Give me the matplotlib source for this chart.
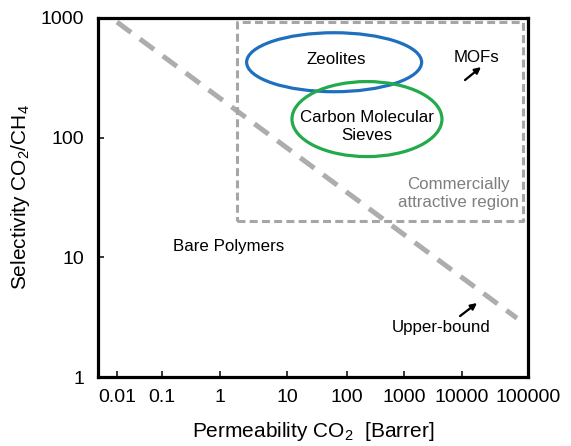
import numpy as np
import matplotlib
matplotlib.use('Agg')
import matplotlib.pyplot as plt
from matplotlib.patches import Ellipse

plt.rcParams['font.family'] = ['Liberation Sans', 'DejaVu Sans']
plt.rcParams['mathtext.fontset'] = 'custom'
plt.rcParams['mathtext.rm'] = 'Liberation Sans'
plt.rcParams['mathtext.it'] = 'Liberation Sans:italic'

# ---------------- data ----------------
x_ticks = [0.01, 0.1, 1, 10, 100, 1000, 10000, 100000]
x_tick_labels = ['0.01', '0.1', '1', '10', '100', '1000', '10000', '100000']
y_ticks = [1, 10, 100, 1000]
y_tick_labels = ['1', '10', '100', '1000']

upper_bound_perm = [0.01, 68000]
upper_bound_sel = [925, 3.1]

attractive_perm = [1.79, 84000]
attractive_sel = [20.1, 925]

zeolite_center = (61, 427)
cms_center = (224, 143)

# ---------------- layout (non-uniform tick spacing of the original axis) ----------------
tick_decades = np.log10(x_ticks)
tick_pos = np.array([117, 162, 220, 287, 347, 404, 462, 528], dtype=float)


def fwd(x):
    x = np.asarray(x, dtype=float)
    lx = np.log10(np.clip(x, 1e-300, None))
    out = np.interp(lx, tick_decades, tick_pos)
    lo_slope = (tick_pos[1] - tick_pos[0]) / (tick_decades[1] - tick_decades[0])
    hi_slope = (tick_pos[-1] - tick_pos[-2]) / (tick_decades[-1] - tick_decades[-2])
    out = np.where(lx < tick_decades[0], tick_pos[0] + (lx - tick_decades[0]) * lo_slope, out)
    out = np.where(lx > tick_decades[-1], tick_pos[-1] + (lx - tick_decades[-1]) * hi_slope, out)
    return out


def inv(p):
    p = np.asarray(p, dtype=float)
    out = np.interp(p, tick_pos, tick_decades)
    lo_slope = (tick_pos[1] - tick_pos[0]) / (tick_decades[1] - tick_decades[0])
    hi_slope = (tick_pos[-1] - tick_pos[-2]) / (tick_decades[-1] - tick_decades[-2])
    out = np.where(p < tick_pos[0], tick_decades[0] + (p - tick_pos[0]) / lo_slope, out)
    out = np.where(p > tick_pos[-1], tick_decades[-1] + (p - tick_pos[-1]) / hi_slope, out)
    return 10 ** out


fig = plt.figure(figsize=(5.71, 4.46), dpi=100)
ax = fig.add_axes([98 / 571, 69 / 446, 430 / 571, 359 / 446])
ax.set_xscale('function', functions=(fwd, inv))
ax.set_yscale('log')
ax.set_xlim(float(inv(98)), 100000)
ax.set_ylim(1, 1000)

ax.set_xticks(x_ticks)
ax.set_xticklabels(x_tick_labels)
ax.set_yticks(y_ticks)
ax.set_yticklabels(y_tick_labels)
ax.xaxis.set_minor_locator(matplotlib.ticker.NullLocator())
ax.yaxis.set_minor_locator(matplotlib.ticker.NullLocator())
ax.tick_params(direction='in', length=4.5, width=1.1, labelsize=14, pad=9, colors='black')
ax.tick_params(axis='y', pad=10)
for s in ax.spines.values():
    s.set_linewidth(2.3)

ax.set_xlabel('Permeability CO$_2$  [Barrer]', fontsize=15, labelpad=10)
ax.set_ylabel('Selectivity CO$_2$/CH$_4$', fontsize=15, labelpad=6)

# upper bound
ax.plot(upper_bound_perm, upper_bound_sel, color='#ADADAD', lw=3.6,
        dashes=(3.5, 2.2), solid_capstyle='butt', dash_capstyle='butt', zorder=2)

# commercially attractive region
rx = [attractive_perm[0], attractive_perm[1], attractive_perm[1], attractive_perm[0], attractive_perm[0]]
ry = [attractive_sel[0], attractive_sel[0], attractive_sel[1], attractive_sel[1], attractive_sel[0]]
ax.plot(rx, ry, color='#A6A6A6', lw=2.2, dashes=(2.6, 1.4), zorder=2)

# ellipses in scaled coordinates
aff = ax.transLimits + ax.transAxes
for center, w, h, col in [(zeolite_center, 175, 0.493, '#1F6FBF'),
                          (cms_center, 150, 0.627, '#22AA4B')]:
    c = ax.transScale.transform([center])[0]
    e = Ellipse(c, w, h, transform=aff, fill=False, edgecolor=col, lw=2.3, zorder=3)
    ax.add_patch(e)

fs = 12.2
ax.text(65.6, 454, 'Zeolites', fontsize=fs, ha='center', va='center')
ax.text(224, 123, 'Carbon Molecular\nSieves', fontsize=fs, ha='center', va='center',
        linespacing=1.25)
ax.text(16300, 471, 'MOFs', fontsize=fs, ha='center', va='center')
ax.text(8540, 34.4, 'Commercially\nattractive region', fontsize=fs, ha='center',
        va='center', color='#7F7F7F', linespacing=1.25)
ax.text(1.36, 12.2, 'Bare Polymers', fontsize=fs, ha='center', va='center')
ax.text(4350, 2.57, 'Upper-bound', fontsize=fs, ha='center', va='center')

arrow = dict(arrowstyle='-|>', lw=1.6, color='black', mutation_scale=9,
             shrinkA=0, shrinkB=0)
ax.annotate('', xy=(19400, 389), xytext=(11100, 303), arrowprops=arrow)
ax.annotate('', xy=(16900, 4.15), xytext=(9250, 3.23), arrowprops=arrow)

fig.savefig('out.png', dpi=100)
